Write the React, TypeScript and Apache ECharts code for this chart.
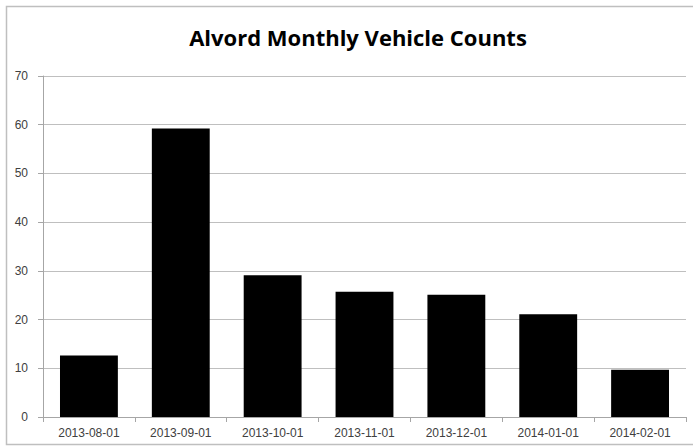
import React, { useEffect, useRef } from "react";
import * as echarts from "echarts";

const categories = ["2013-08-01", "2013-09-01", "2013-10-01", "2013-11-01", "2013-12-01", "2014-01-01", "2014-02-01"];
const counts = [12.6, 59.2, 29.1, 25.7, 25.1, 21.1, 9.7];
const title = "Alvord Monthly Vehicle Counts";

export default function App() {
  const ref = useRef<HTMLDivElement>(null);
  useEffect(() => {
    const chart = echarts.init(ref.current!, null, { renderer: "svg" });
    chart.setOption({
      animation: false,
      backgroundColor: "#ffffff",
      title: {
        text: title,
        left: 353,
        textAlign: "center",
        top: 21,
        textStyle: { fontFamily: "Open Sans", fontWeight: "bold", fontSize: 22, color: "#000" },
      },
      graphic: [
        {
          type: "rect",
          shape: { x: 6.5, y: 6.5, width: 690, height: 438 },
          style: { fill: "none", stroke: "#bfbfbf", lineWidth: 1.5 },
          silent: true,
        },
      ],
      grid: { left: 43, right: 7, top: 76, bottom: 30, containLabel: false },
      xAxis: {
        type: "category",
        data: categories,
        axisLine: { lineStyle: { color: "#a6a6a6" } },
        axisTick: { show: true, length: 5, alignWithLabel: false, lineStyle: { color: "#a6a6a6" } },
        axisLabel: { fontFamily: "Liberation Sans", fontSize: 12, color: "#404040", margin: 10, interval: 0 },
      },
      yAxis: {
        type: "value",
        min: 0,
        max: 70,
        interval: 10,
        axisLine: { show: true, lineStyle: { color: "#a6a6a6" } },
        axisTick: { show: true, length: 5, lineStyle: { color: "#a6a6a6" } },
        axisLabel: { fontFamily: "Liberation Sans", fontSize: 12, color: "#404040", margin: 15 },
        splitLine: { lineStyle: { color: "#bfbfbf" } },
      },
      series: [
        {
          type: "bar",
          data: counts,
          barCategoryGap: "37%",
          itemStyle: { color: "#000000" },
        },
      ],
    });
    return () => chart.dispose();
  }, []);
  return <div ref={ref} style={{ width: 693, height: 447, position: "absolute", left: 0, top: 0 }} />;
}
